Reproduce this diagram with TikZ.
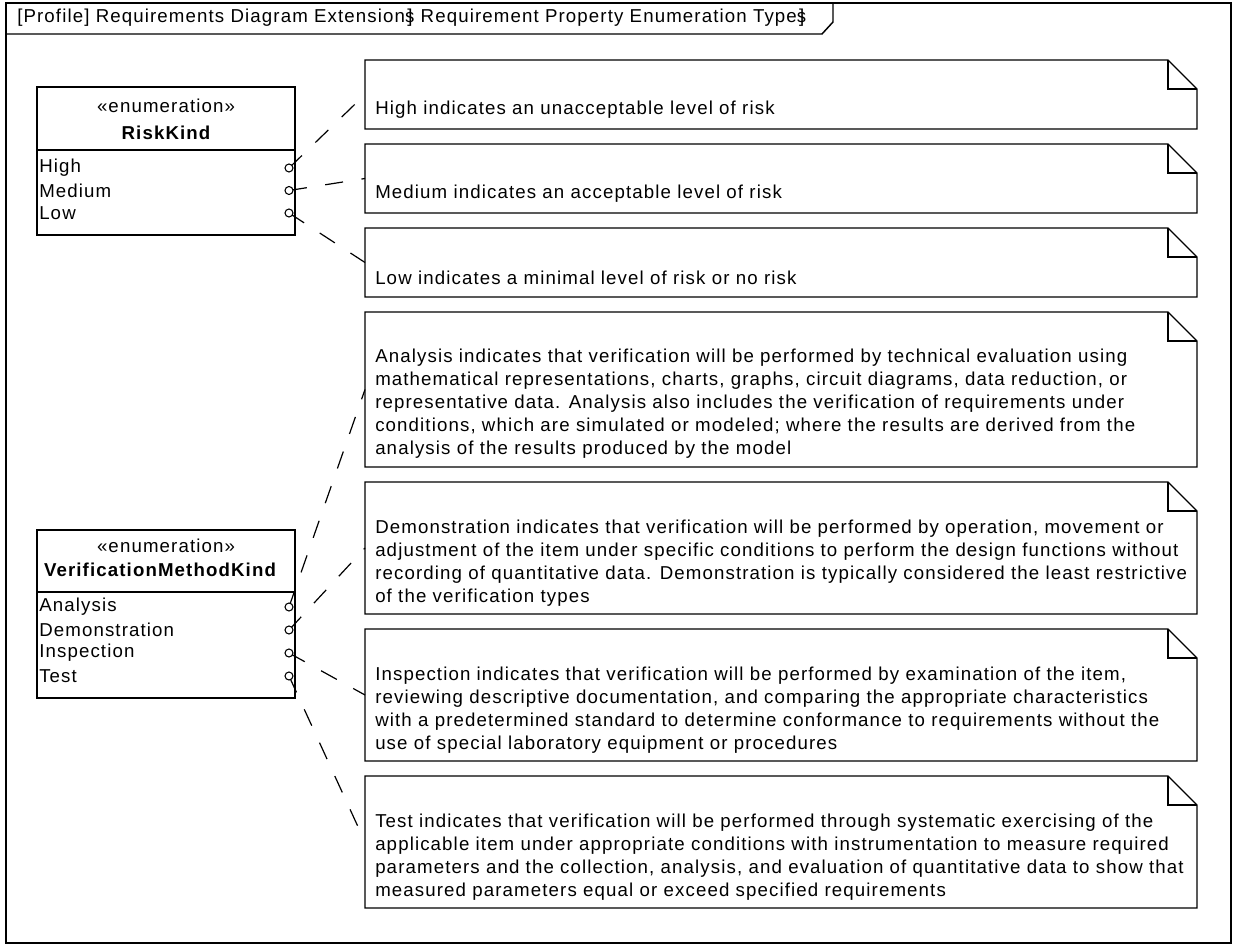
\documentclass[tikz,border=0pt]{standalone}
\usepackage{fontspec}
\setmainfont{Liberation Sans}[LetterSpace=6]
\usetikzlibrary{positioning, calc}
\pgfdeclarelayer{background}
\pgfsetlayers{background,main}

% note with folded corner, x from 365 to 1197, #2 = top, #3 = bottom
\newcommand{\notebox}[3]{%
  \draw[outline] (365,#2) -- (1168,#2) -- (1197,#2+29) -- (1197,#3) -- (365,#3) -- cycle;
  \draw[outline] (1168,#2) -- (1168,#2+29) -- (1197,#2+29);
  \coordinate (#1) at (365,{(#2+#3)/2});
}
% overprinted s and bracket, as in the frame title
\newcommand{\sbr}{\rlap{s}\hspace{0.12em}]\hspace{0.1em}}

\begin{document}
\begin{tikzpicture}[x=0.75pt, y=-0.75pt,
    frameline/.style={line width=1.1pt},
    outline/.style={line width=1pt},
    anchorline/.style={line width=0.9pt, dash pattern=on 13.5pt off 14pt},
    port/.style={circle, draw, line width=0.8pt, fill=white, minimum size=6pt, inner sep=0pt},
    notetext/.style={anchor=west, align=left, inner sep=0pt, font=\fontsize{14}{17.25}\selectfont},
    entry/.style={anchor=west, inner sep=0pt, font=\fontsize{14}{16}\selectfont},
    title/.style={inner sep=0pt, font=\fontsize{14}{16}\selectfont}
]
    \useasboundingbox (0,0) rectangle (1233,945);

    % Diagram frame
    \draw[frameline] (6,3) rectangle (1231,943);
    \draw[frameline] (6,34) -- (822,34) -- (833,22) -- (833,3);
    \node[title, anchor=west] (frametitle) at (17,18)
        {[Profile] Requirements Diagram Extension\sbr{} Requirement Property Enumeration Type\sbr};

    % RiskKind
    \draw[outline] (37,87) rectangle (295,235);
    \draw[outline] (37,150) -- (295,150);
    \node[title] (riskster) at (166,106) {«enumeration»};
    \node[title, font=\fontsize{14}{16}\selectfont\bfseries] (riskname) at (166,133) {RiskKind};
    \node[entry] (high)   at (39,168) {High};
    \node[entry] (medium) at (39,190.5) {Medium};
    \node[entry] (low)    at (39,213) {Low};
    \node[port] (highport)   at (289,168) {};
    \node[port] (mediumport) at (289,190.5) {};
    \node[port] (lowport)    at (289,213) {};

    % VerificationMethodKind
    \draw[outline] (37,530) rectangle (295,698);
    \draw[outline] (37,592) -- (295,592);
    \node[title] (verster) at (166,546) {«enumeration»};
    \node[title, font=\fontsize{14}{16}\selectfont\bfseries] (vername) at (160,570) {VerificationMethodKind};
    \node[entry] (analysis)      at (39,607) {Analysis};
    \node[entry] (demonstration) at (39,630) {Demonstration};
    \node[entry] (inspection)    at (39,653) {Inspection};
    \node[entry] (test)          at (39,676) {Test};
    \node[port] (analysisport)      at (289,607) {};
    \node[port] (demonstrationport) at (289,630) {};
    \node[port] (inspectionport)    at (289,653) {};
    \node[port] (testport)          at (289,676) {};

    % Notes
    \notebox{highnote}{60}{129}
    \node[notetext] (hightext) at (375,110) {High indicates an unacceptable level of risk};

    \notebox{mediumnote}{144}{213}
    \node[notetext] (mediumtext) at (375,194) {Medium indicates an acceptable level of risk};

    \notebox{lownote}{228}{297}
    \node[notetext] (lowtext) at (375,278) {Low indicates a minimal level of risk or no risk};

    \notebox{analysisnote}{312}{467}
    \node[notetext] (analysistext) at (375,404) {Analysis indicates that verification will be performed by technical evaluation using\\
        mathematical representations, charts, graphs, circuit diagrams, data reduction, or\\
        representative data. Analysis also includes the verification of requirements under\\
        conditions, which are simulated or modeled; where the results are derived from the\\
        analysis of the results produced by the model};

    \notebox{demonstrationnote}{482}{614}
    \node[notetext] (demonstrationtext) at (375,563) {Demonstration indicates that verification will be performed by operation, movement or\\
        adjustment of the item under specific conditions to perform the design functions without\\
        recording of quantitative data. Demonstration is typically considered the least restrictive\\
        of the verification types};

    \notebox{inspectionnote}{629}{761}
    \node[notetext] (inspectiontext) at (375,710) {Inspection indicates that verification will be performed by examination of the item,\\
        reviewing descriptive documentation, and comparing the appropriate characteristics\\
        with a predetermined standard to determine conformance to requirements without the\\
        use of special laboratory equipment or procedures};

    \notebox{testnote}{776}{908}
    \node[notetext] (testtext) at (375,857) {Test indicates that verification will be performed through systematic exercising of the\\
        applicable item under appropriate conditions with instrumentation to measure required\\
        parameters and the collection, analysis, and evaluation of quantitative data to show that\\
        measured parameters equal or exceed specified requirements};

    % Anchors
    \begin{pgfonlayer}{background}
        \draw[anchorline] (highport.center) -- (highnote);
        \draw[anchorline] (mediumport.center) -- (mediumnote);
        \draw[anchorline] (lowport.center) -- (lownote);
        \draw[anchorline] (analysisport.center) -- (analysisnote);
        \draw[anchorline] (demonstrationport.center) -- (demonstrationnote);
        \draw[anchorline] (inspectionport.center) -- (inspectionnote);
        \draw[anchorline] (testport.center) -- (testnote);
    \end{pgfonlayer}
\end{tikzpicture}
\end{document}
